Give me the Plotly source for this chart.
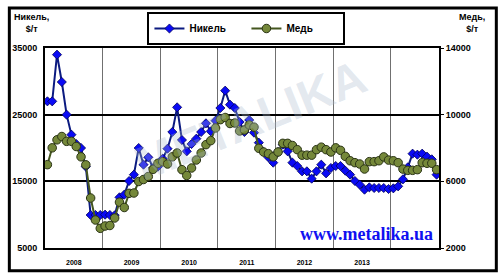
import plotly.graph_objects as go

years = ["2008", "2009", "2010", "2011", "2012", "2013"]

nickel = [
    27000, 27000, 34000, 29900, 25000, 22000, 20600, 20000, 17200, 9950, 9950, 9950,
    10000, 9950, 9900, 12600, 13000, 15050, 16000, 20000, 17500, 18600, 17000, 17200,
    18400, 19900, 22400, 26100, 21200, 19500, 20600, 21400, 22400, 23700, 22500, 24100,
    26000, 28600, 26500, 26000, 23900, 22400, 24200, 22300, 20800, 19400, 18600, 17800,
    19400, 20500, 19500, 17800, 17300, 16500, 16500, 15400, 16500, 17500, 16200, 17000,
    17300, 17300, 16600, 16000, 15050, 14500, 13750, 14100, 14000, 14000, 14000, 13850,
    13950, 14250, 15300, 17100, 19150, 19000, 19150, 18700, 18300, 16000,
]

copper = [
    7000, 8010, 8490, 8690, 8400, 8400, 8090, 7470, 6990, 5000, 3680, 3180,
    3320, 3350, 3800, 4750, 4430, 5280, 5300, 5990, 6110, 6290, 6720, 7080,
    7180, 7040, 7470, 7700, 6700, 6350, 6800, 7280, 7700, 8200, 8440, 9200,
    9700, 9830, 9470, 9500, 9020, 9080, 9380, 9250, 7980, 7760, 7660, 7470,
    7760, 8280, 8280, 8150, 7900, 7570, 7570, 7570, 7900, 8050, 7900, 7760,
    8010, 7860, 7500, 7235, 7120, 7040, 6740, 7180, 7180, 7235, 7467, 7275,
    7235, 7120, 6735, 6660, 6660, 6700, 7120, 7084, 7084, 6700,
]

nickel_ticks = [5000, 15000, 25000, 35000]
copper_ticks = [2000, 6000, 10000, 14000]

months = list(range(len(nickel)))
year_centers = [12 * k + 5.5 for k in range(len(years))]
year_bounds = [12 * k + 11.5 for k in range(6)]

FONT = "Liberation Sans, Arial, sans-serif"

fig = go.Figure()

# watermark
fig.add_annotation(
    x=0.52, y=0.64, xref="paper", yref="paper", text="METALIKA",
    showarrow=False, textangle=-22,
    font=dict(family=FONT, size=48, color="rgba(170,185,205,0.33)", weight="bold"),
)

fig.add_trace(go.Scatter(
    x=months, y=nickel, name="Никель", mode="lines+markers",
    line=dict(color="#0B1A80", width=2),
    marker=dict(symbol="diamond", size=7, color="#0A0AF5", line=dict(color="#00005A", width=0.8)),
    yaxis="y",
))
fig.add_trace(go.Scatter(
    x=months, y=copper, name="Медь", mode="lines+markers",
    line=dict(color="#44561F", width=2),
    marker=dict(symbol="circle", size=8.5, color="#75883A", line=dict(color="#2A3315", width=1)),
    yaxis="y2",
))

fig.update_layout(
    width=500, height=278,
    margin=dict(l=39, r=61, t=44, b=27),
    paper_bgcolor="white", plot_bgcolor="white",
    font=dict(family=FONT, size=9, color="black", weight="bold"),
    showlegend=True,
    legend=dict(
        orientation="h", x=0.26, xanchor="left", y=1.18, yanchor="top",
        bordercolor="black", borderwidth=2, bgcolor="white",
        font=dict(family=FONT, size=10, weight="bold"),
        itemwidth=30, entrywidth=52,
    ),
    xaxis=dict(
        range=[-0.5, len(months) - 0.5],
        tickmode="array", tickvals=year_centers, ticktext=years,
        ticks="outside", ticklen=7, tickcolor="rgba(0,0,0,0)",
        tickfont=dict(family=FONT, size=7, weight="bold"),
        showgrid=False, zeroline=False,
        showline=True, mirror=True, linecolor="black", linewidth=2,
        minor=dict(tickmode="array", tickvals=year_bounds, showgrid=True,
                   gridcolor="#707070", gridwidth=1, ticks=""),
    ),
    yaxis=dict(
        range=[5000, 35000], tickmode="array", tickvals=nickel_ticks,
        ticktext=[str(v) for v in nickel_ticks],
        showgrid=True, gridcolor="black", gridwidth=1.5, zeroline=False,
        showline=True, mirror=True, linecolor="black", linewidth=2,
        ticks="", tickfont=dict(family=FONT, size=9, weight="bold"),
        ticklabelstandoff=4,
    ),
    yaxis2=dict(
        range=[2000, 14000], tickmode="array", tickvals=copper_ticks,
        ticktext=[str(v) for v in copper_ticks],
        overlaying="y", side="right", showgrid=False, zeroline=False,
        ticks="outside", ticklen=4, tickcolor="black", tickwidth=1,
        tickfont=dict(family=FONT, size=9, weight="bold"),
    ),
)

# axis titles
fig.add_annotation(x=-0.035, y=1.19, xref="paper", yref="paper", text="Никель,<br>$/т",
                   showarrow=False, xanchor="center", yanchor="top", align="center",
                   font=dict(family=FONT, size=9, weight="bold"))
fig.add_annotation(x=1.083, y=1.19, xref="paper", yref="paper", text="Медь,<br>$/т",
                   showarrow=False, xanchor="center", yanchor="top", align="center",
                   font=dict(family=FONT, size=9, weight="bold"))

# site url
fig.add_annotation(x=0.99, y=0.0, xref="paper", yref="paper", text="www.metalika.ua",
                   showarrow=False, xanchor="right", yanchor="bottom", yshift=2,
                   font=dict(family="Liberation Serif, Times New Roman, serif", size=18,
                             color="#1010F0", weight="bold"))

# outer frame
fig.add_shape(type="rect", xref="paper", yref="paper",
              x0=-0.0905, x1=1.1455, y0=-0.1135, y1=1.2005,
              line=dict(color="black", width=3), fillcolor="rgba(0,0,0,0)")

fig.write_html("out.html")
